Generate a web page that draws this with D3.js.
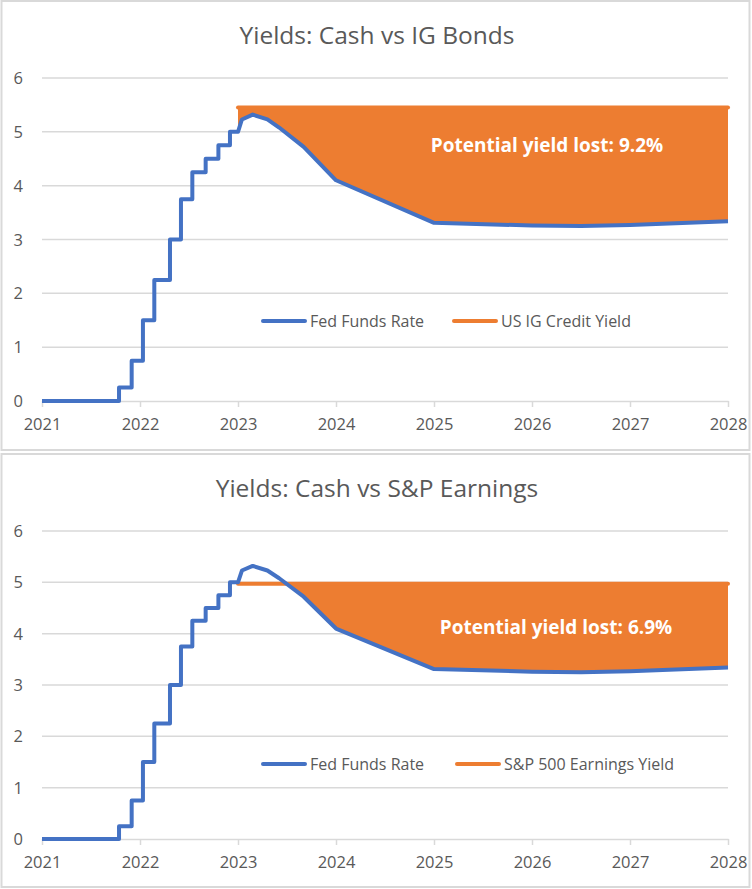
<!DOCTYPE html>
<html>
<head>
<meta charset="utf-8">
<script src="https://cdn.jsdelivr.net/npm/d3@7"></script>
<style>
  body { margin: 0; background: #fff; }
  svg { display: block; font-family: "Open Sans", sans-serif; }
</style>
</head>
<body>
<div id="wrapper"></div>
<script>
// data
const yearTicks = [2021, 2022, 2023, 2024, 2025, 2026, 2027, 2028]
const yTicks = [0, 1, 2, 3, 4, 5, 6]

// fed funds hikes (decimal year, level after the hike)
const hikeDates = [2021.786, 2021.915, 2022.03, 2022.146, 2022.306, 2022.418, 2022.534, 2022.67, 2022.80, 2022.918]
const hikeLevels = [0.25, 0.75, 1.5, 2.25, 3.0, 3.75, 4.25, 4.5, 4.75, 5.0]

// implied path after the last hike
const forecastDates = [2023.0, 2023.04, 2023.15, 2023.3, 2023.42, 2023.67, 2024.0, 2025.0, 2026.0, 2026.5, 2027.0, 2028.0]
const forecastRates = [5.0, 5.23, 5.32, 5.23, 5.08, 4.72, 4.1, 3.31, 3.26, 3.25, 3.27, 3.34]

const igYield = 5.45
const spEarningsYield = 4.97
const compareDates = [2023, 2028]

const panels = [
  { title: 'Yields: Cash vs IG Bonds', compareName: 'US IG Credit Yield', compare: igYield,
    note: 'Potential yield lost: 9.2%', top: 0 },
  { title: 'Yields: Cash vs S&P Earnings', compareName: 'S&P 500 Earnings Yield', compare: spEarningsYield,
    note: 'Potential yield lost: 6.9%', top: 453 },
]

const blue = '#4472c4'
const orange = '#ed7d31'
const grid = '#d9d9d9'
const textColor = '#595959'

// build the fed funds series as points
const fedPoints = [{ t: 2021, v: 0 }]
hikeDates.forEach((t, i) => {
  fedPoints.push({ t, v: i === 0 ? 0 : hikeLevels[i - 1] })
  fedPoints.push({ t, v: hikeLevels[i] })
})
forecastDates.forEach((t, i) => fedPoints.push({ t, v: forecastRates[i] }))
const forecastPoints = forecastDates.map((t, i) => ({ t, v: forecastRates[i] }))

const width = 752
const height = 889

const wrapper = d3.select('#wrapper')
  .append('svg')
    .attr('width', width)
    .attr('height', height)

const drawPanel = (p, idx) => {
  const h = idx === 0 ? 450 : 434
  let dimensions = {
    width: 749,
    height: h,
    margin: { top: 78, left: 42, right: 22, bottom: idx === 0 ? 49 : 48 },
  }
  dimensions.boundedWidth = dimensions.width + 1 - dimensions.margin.left - dimensions.margin.right
  dimensions.boundedHeight = dimensions.height - dimensions.margin.top - dimensions.margin.bottom

  const panel = wrapper.append('g')
      .attr('transform', `translate(0, ${p.top})`)

  panel.append('rect')
      .attr('x', 1.5)
      .attr('y', 1)
      .attr('width', dimensions.width - 1)
      .attr('height', dimensions.height - 1)
      .attr('fill', '#fff')
      .attr('stroke', grid)
      .attr('stroke-width', 2)

  panel.append('text')
      .attr('x', 377)
      .attr('y', 44)
      .attr('text-anchor', 'middle')
      .attr('fill', textColor)
      .style('font-size', '24.5px')
      .text(p.title)

  const bounds = panel.append('g')
      .attr('transform', `translate(${dimensions.margin.left}, ${dimensions.margin.top})`)

  const xScale = d3.scaleLinear()
    .domain([2021, 2028])
    .range([0, dimensions.boundedWidth])

  const yScale = d3.scaleLinear()
    .domain([0, 6])
    .range([dimensions.boundedHeight, 0])

  // gridlines
  bounds.append('g')
    .selectAll('line')
    .data(yTicks.filter(d => d > 0))
    .join('line')
      .attr('x1', 0)
      .attr('x2', dimensions.boundedWidth)
      .attr('y1', d => yScale(d))
      .attr('y2', d => yScale(d))
      .attr('stroke', grid)
      .attr('stroke-width', 1.5)

  // y labels
  bounds.append('g')
    .selectAll('text')
    .data(yTicks)
    .join('text')
      .attr('x', -19)
      .attr('y', d => yScale(d) + 6)
      .attr('text-anchor', 'end')
      .attr('fill', textColor)
      .style('font-size', '16.5px')
      .text(d => d)

  // x axis
  const xAxis = d3.axisBottom(xScale)
    .tickValues(yearTicks)
    .tickFormat(d3.format('d'))
    .tickSize(6)
    .tickSizeOuter(0)
  const xAxisGroup = bounds.append('g')
      .attr('transform', `translate(0, ${dimensions.boundedHeight})`)
      .call(xAxis)
  xAxisGroup.select('.domain').attr('stroke', grid).attr('stroke-width', 1.5)
  xAxisGroup.selectAll('.tick line').attr('stroke', grid).attr('stroke-width', 1.5)
  xAxisGroup.selectAll('.tick text')
      .attr('y', 17)
      .attr('fill', textColor)
      .style('font-size', '16.5px')
      .style('font-family', '"Open Sans", sans-serif')

  // shaded gap between compare yield and the fed path
  const clipId = `clip-${idx}`
  bounds.append('clipPath')
      .attr('id', clipId)
    .append('rect')
      .attr('x', xScale(compareDates[0]))
      .attr('y', yScale(p.compare))
      .attr('width', xScale(compareDates[1]) - xScale(compareDates[0]))
      .attr('height', dimensions.boundedHeight - yScale(p.compare))

  const gapArea = d3.area()
    .x(d => xScale(d.t))
    .y0(d => yScale(d.v))
    .y1(yScale(p.compare))

  bounds.append('path')
      .datum(forecastPoints)
      .attr('d', gapArea)
      .attr('fill', orange)
      .attr('clip-path', `url(#${clipId})`)

  const lineGen = d3.line()
    .x(d => xScale(d.t))
    .y(d => yScale(d.v))

  bounds.append('path')
      .datum(compareDates.map(t => ({ t, v: p.compare })))
      .attr('d', lineGen)
      .attr('fill', 'none')
      .attr('stroke', orange)
      .attr('stroke-width', 4)
      .attr('stroke-linecap', 'round')

  bounds.append('path')
      .datum(fedPoints)
      .attr('d', lineGen)
      .attr('fill', 'none')
      .attr('stroke', blue)
      .attr('stroke-width', 4)
      .attr('stroke-linejoin', 'round')

  // note inside the shaded area
  bounds.append('text')
      .attr('x', (idx === 0 ? 547 : 556) - dimensions.margin.left)
      .attr('y', (idx === 0 ? 152 : 181) - dimensions.margin.top)
      .attr('text-anchor', 'middle')
      .attr('fill', '#fff')
      .style('font-size', '19px')
      .style('font-weight', 'bold')
      .text(p.note)

  // legend
  const legendY = idx === 0 ? 321 : 311
  const legend = panel.append('g')
  const items = [
    { name: 'Fed Funds Rate', color: blue, x: 263 },
    { name: p.compareName, color: orange, x: idx === 0 ? 454 : 457 },
  ]
  items.forEach(item => {
    legend.append('line')
        .attr('x1', item.x)
        .attr('x2', item.x + 42)
        .attr('y1', legendY)
        .attr('y2', legendY)
        .attr('stroke', item.color)
        .attr('stroke-width', 4)
        .attr('stroke-linecap', 'round')
    legend.append('text')
        .attr('x', item.x + 47)
        .attr('y', legendY + 5.5)
        .attr('fill', textColor)
        .style('font-size', '16px')
        .text(item.name)
  })
}

panels.forEach(drawPanel)
</script>
</body>
</html>
